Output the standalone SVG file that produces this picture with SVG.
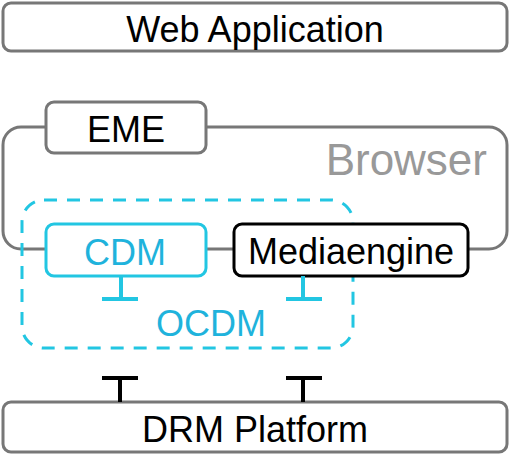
<svg xmlns="http://www.w3.org/2000/svg" width="510" height="455" viewBox="0 0 510 455">
  <style>
    .box { fill: #fff; stroke: #777; stroke-width: 3; }
    .lbl { font-family: "Liberation Sans", Arial, sans-serif; font-size: 36px; text-anchor: middle; fill: #000; }
    .cy { stroke: #22c6e2; }
    .blk { stroke: #000; }
    .cyt { fill: #1fb3dc; }
    .tbar { stroke-width: 4; fill: none; }
  </style>
  <rect width="510" height="455" fill="#fff"/>
  <g id="web-application">
    <rect class="box" x="3" y="3" width="504" height="48" rx="8"/>
    <text class="lbl" x="255" y="42">Web Application</text>
  </g>
  <g id="browser">
    <rect x="3" y="127" width="504" height="122" rx="18" fill="none" stroke="#777" stroke-width="3"/>
    <text x="487" y="175" font-family="Liberation Sans, Arial, sans-serif" font-size="44" text-anchor="end" fill="#999">Browser</text>
  </g>
  <g id="eme">
    <rect class="box" x="46" y="102" width="160" height="51" rx="8"/>
    <text class="lbl" x="126" y="142">EME</text>
  </g>
  <g id="ocdm">
    <rect x="22" y="200" width="331" height="148" rx="22" fill="none" stroke="#22c6e2" stroke-width="3" stroke-dasharray="13 10"/>
    <text class="lbl cyt" x="211" y="336">OCDM</text>
  </g>
  <g id="cdm">
    <rect class="box cy" x="46" y="224" width="160" height="52" rx="8"/>
    <text class="lbl cyt" x="125" y="265">CDM</text>
  </g>
  <g id="mediaengine">
    <rect class="box blk" x="234" y="224" width="234" height="52" rx="8"/>
    <text class="lbl" x="351" y="264">Mediaengine</text>
  </g>
  <g id="drm-platform">
    <rect class="box" x="3" y="402" width="504" height="50" rx="8"/>
    <text class="lbl" x="255" y="442">DRM Platform</text>
  </g>
  <g id="connectors">
    <path class="tbar" stroke="#22c6e2" d="M121 276 V299 M102 299 H138"/>
    <path class="tbar" stroke="#22c6e2" d="M303 276 V299 M286 299 H322"/>
    <path class="tbar" stroke="#000" d="M120 402 V378 M102 378 H138"/>
    <path class="tbar" stroke="#000" d="M303 402 V378 M286 378 H322"/>
  </g>
</svg>
